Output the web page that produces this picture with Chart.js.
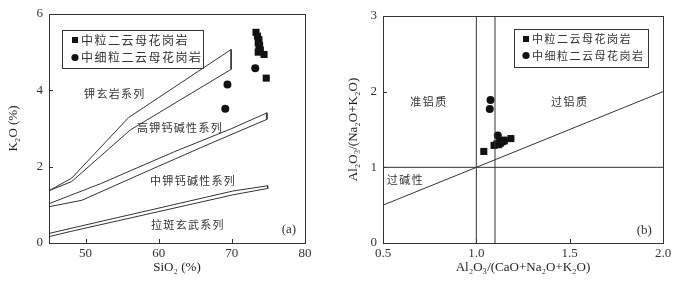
<!DOCTYPE html>
<html>
<head>
<meta charset="utf-8">
<script src="https://cdn.jsdelivr.net/npm/chart.js@4"></script>
<style>
body { margin: 0; background: #fff; width: 700px; height: 282px; position: relative; overflow: hidden; }
canvas { position: absolute; top: 0; }
#chartA { left: 0; }
#chartB { left: 340px; }
</style>
</head>
<body>
<canvas id="chartA" width="340" height="282"></canvas>
<canvas id="chartB" width="360" height="282"></canvas>
<script>
// ---- (a) K2O - SiO2 ----
const sio2Medium = [73.3, 73.5, 73.7, 73.6, 73.8, 73.7, 73.9, 73.6, 74.4, 74.7];
const k2oMedium  = [5.52, 5.42, 5.33, 5.25, 5.18, 5.10, 5.05, 5.00, 4.94, 4.32];
const sio2Fine = [69.1, 69.4, 73.2];
const k2oFine  = [3.52, 4.15, 4.58];

// series boundary bands (closed outlines)
const shoshSiO2 = [45, 48.1, 55.9, 69.9, 69.9, 56.1, 48.1, 45];
const shoshK2O  = [1.37, 1.70, 3.29, 5.07, 4.55, 2.96, 1.61, 1.37];
const highKSiO2 = [45, 52, 62, 70, 74.8, 74.8, 66, 57, 49.5, 45, 45];
const highKK2O  = [1.03, 1.55, 2.38, 3.00, 3.41, 3.24, 2.52, 1.76, 1.12, 0.95, 1.03];
const lowKSiO2  = [45, 47.9, 70.1, 74.9, 74.9, 70.1, 47.9, 45, 45];
const lowKK2O   = [0.25, 0.38, 1.36, 1.50, 1.43, 1.26, 0.30, 0.165, 0.25];

const xTicksA = [50, 60, 70, 80];
const yTicksA = [0, 2, 4, 6];

// ---- (b) A/NK - A/CNK ----
const acnkMedium = [1.04, 1.095, 1.11, 1.125, 1.14, 1.15, 1.13, 1.185, 1.12, 1.145];
const anknMedium = [1.21, 1.29, 1.31, 1.33, 1.34, 1.35, 1.32, 1.38, 1.30, 1.36];
const acnkFine = [1.076, 1.072, 1.115];
const anknFine = [1.89, 1.77, 1.42];

const xTicksB = [0.5, 1.0, 1.5, 2.0];
const yTicksB = [0, 1, 2, 3];

const nameMedium = '中粒二云母花岗岩';
const nameFine = '中细粒二云母花岗岩';

const pts = (xs, ys) => xs.map((x, i) => ({x: x, y: ys[i]}));
const lineColor = '#333';
const tickFont = {family: '"Liberation Serif", "DejaVu Serif", serif', size: 13};
const cjkFont = '"Noto Sans CJK SC", sans-serif';

function outline(data) {
  return { data: data, showLine: true, fill: false, borderColor: lineColor, borderWidth: 1, pointRadius: 0, tension: 0 };
}
function marks(data, style, r) {
  return { data: data, pointStyle: style, pointRadius: r, backgroundColor: '#111', borderColor: '#111', borderWidth: 0 };
}

function axis(min, max, ticks, title, fmt, isX, size) {
  return {
    type: 'linear', min: min, max: max,
    afterBuildTicks: s => { s.ticks = ticks.map(v => ({value: v})); },
    afterFit: s => { if (isX) s.height = size; else s.width = size; },
    grid: {display: false, drawTicks: false},
    border: {display: false},
    ticks: {font: tickFont, color: '#333', padding: isX ? 3 : 6, maxRotation: 0, autoSkip: false, callback: fmt},
    title: {display: true, text: title, font: tickFont, color: '#222', padding: isX ? {top: 0, bottom: 7} : {top: 6, bottom: 0}}
  };
}

// frame, inward ticks, text labels and legend box
function decor(cfg) {
  return {
    id: 'decor',
    afterDatasetsDraw(chart) {
      const {ctx, chartArea: a, scales: {x, y}} = chart;
      ctx.save();
      ctx.strokeStyle = lineColor;
      ctx.lineWidth = 1;
      ctx.strokeRect(a.left + 0.5, a.top + 0.5, a.right - a.left, a.bottom - a.top);
      ctx.beginPath();
      x.ticks.forEach(t => {
        const px = Math.round(x.getPixelForValue(t.value)) + 0.5;
        if (px > a.left + 3 && px < a.right - 3) { ctx.moveTo(px, a.bottom); ctx.lineTo(px, a.bottom - 4); }
      });
      y.ticks.forEach(t => {
        const py = Math.round(y.getPixelForValue(t.value)) + 0.5;
        if (py > a.top + 3 && py < a.bottom - 3) { ctx.moveTo(a.left, py); ctx.lineTo(a.left + 4, py); }
      });
      ctx.stroke();

      ctx.fillStyle = '#333';
      ctx.textAlign = 'center';
      ctx.textBaseline = 'middle';
      cfg.notes.forEach(n => {
        ctx.font = n.font || ('11px ' + cjkFont);
        ctx.letterSpacing = n.spacing || '0px';
        ctx.fillText(n.text, x.getPixelForValue(n.x), y.getPixelForValue(n.y));
      });

      const L = cfg.legend;
      ctx.fillStyle = '#fff';
      ctx.fillRect(L.x, L.y, L.w, L.h);
      ctx.strokeRect(L.x + 0.5, L.y + 0.5, L.w, L.h);
      ctx.fillStyle = '#111';
      ctx.fillRect(L.x + L.mx - 3, L.y + L.r1 - 3, 6, 6);
      ctx.beginPath();
      ctx.arc(L.x + L.mx, L.y + L.r2, 3.6, 0, Math.PI * 2);
      ctx.fill();
      ctx.fillStyle = '#333';
      ctx.textAlign = 'left';
      ctx.font = L.font;
      ctx.letterSpacing = L.spacing;
      ctx.fillText(nameMedium, L.x + L.tx, L.y + L.r1);
      ctx.fillText(nameFine, L.x + L.tx, L.y + L.r2);
      ctx.restore();
    }
  };
}

Chart.defaults.animation = false;

const chartA = new Chart(document.getElementById('chartA').getContext('2d'), {
  type: 'scatter',
  data: {
    datasets: [
      outline(pts(shoshSiO2, shoshK2O)),
      outline(pts(highKSiO2, highKK2O)),
      outline(pts(lowKSiO2, lowKK2O)),
      marks(pts(sio2Medium, k2oMedium), 'rect', 5),
      marks(pts(sio2Fine, k2oFine), 'circle', 4)
    ]
  },
  options: {
    responsive: false,
    devicePixelRatio: 1,
    layout: {padding: {top: 14, right: 35, left: 0, bottom: 0}},
    plugins: {legend: {display: false}, tooltip: {enabled: false}},
    scales: {
      x: axis(45, 80, xTicksA, 'SiO₂ (%)', v => String(v), true, 39),
      y: axis(0, 6, yTicksA, 'K₂O (%)', v => String(v), false, 49)
    }
  },
  plugins: [decor({
    notes: [
      {text: '钾玄岩系列', x: 54.0, y: 3.92, spacing: '1.3px'},
      {text: '高钾钙碱性系列', x: 62.9, y: 3.03, spacing: '1.3px'},
      {text: '中钾钙碱性系列', x: 64.7, y: 1.62, spacing: '1.3px'},
      {text: '拉斑玄武系列', x: 64.0, y: 0.47, spacing: '1.3px'},
      {text: '(a)', x: 77.8, y: 0.34, font: '13px "Liberation Serif", serif'}
    ],
    legend: {x: 62, y: 30, w: 141, h: 38, mx: 13, r1: 10, r2: 27.5, tx: 19, font: '12px ' + cjkFont, spacing: '1.5px'}
  })]
});

const chartB = new Chart(document.getElementById('chartB').getContext('2d'), {
  type: 'scatter',
  data: {
    datasets: [
      outline(pts([1.0, 1.0], [0, 3])),
      outline(pts([1.1, 1.1], [0, 3])),
      outline(pts([0.5, 2.0], [1, 1])),
      outline(pts([0.5, 2.0], [0.5, 2.0])),
      marks(pts(acnkMedium, anknMedium), 'rect', 5),
      marks(pts(acnkFine, anknFine), 'circle', 4)
    ]
  },
  options: {
    responsive: false,
    devicePixelRatio: 1,
    layout: {padding: {top: 16, right: 37, left: 0, bottom: 0}},
    plugins: {legend: {display: false}, tooltip: {enabled: false}},
    scales: {
      x: axis(0.5, 2.0, xTicksB, 'Al₂O₃/(CaO+Na₂O+K₂O)', v => v.toFixed(1), true, 39),
      y: axis(0, 3, yTicksB, 'Al₂O₃/(Na₂O+K₂O)', v => String(v), false, 43)
    }
  },
  plugins: [decor({
    notes: [
      {text: '准铝质', x: 0.746, y: 1.87, spacing: '1.5px'},
      {text: '过铝质', x: 1.5, y: 1.87, spacing: '1.5px'},
      {text: '过碱性', x: 0.62, y: 0.83, spacing: '1.5px'},
      {text: '(b)', x: 1.9, y: 0.17, font: '13px "Liberation Serif", serif'}
    ],
    legend: {x: 174, y: 29, w: 134, h: 38, mx: 12, r1: 10, r2: 26.5, tx: 18, font: '11px ' + cjkFont, spacing: '1.5px'}
  })]
});
</script>
</body>
</html>
